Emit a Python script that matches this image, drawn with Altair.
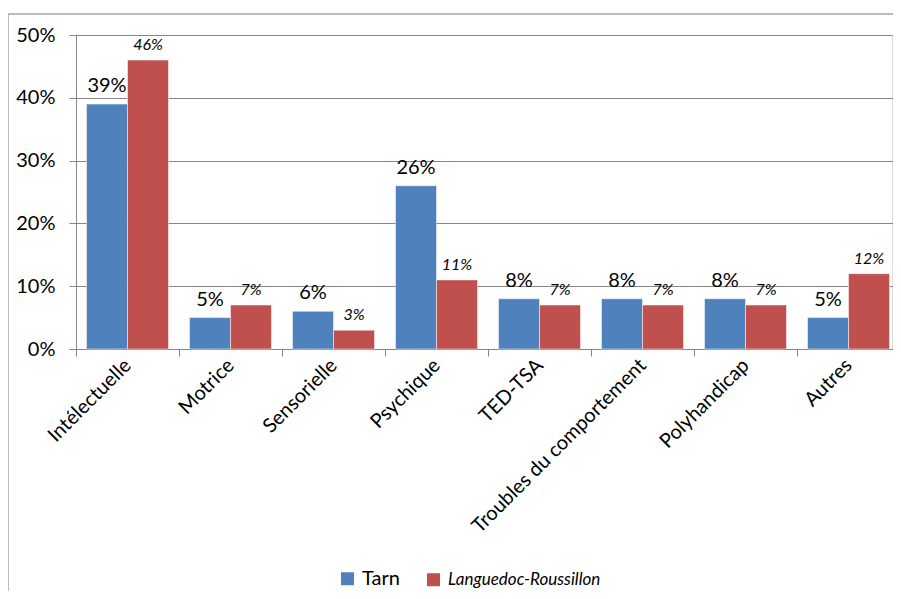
import altair as alt
import pandas as pd

categories = ["Intélectuelle", "Motrice", "Sensorielle", "Psychique", "TED-TSA",
              "Troubles du comportement", "Polyhandicap", "Autres"]
series = ["Tarn", "Languedoc-Roussillon"]
tarn = [0.39, 0.05, 0.06, 0.26, 0.08, 0.08, 0.08, 0.05]
lr = [0.46, 0.07, 0.03, 0.11, 0.07, 0.07, 0.07, 0.12]
colors = ["#4F81BD", "#C0504D"]

rows = []
for c, t, l in zip(categories, tarn, lr):
    rows.append({"cat": c, "serie": series[0], "val": t})
    rows.append({"cat": c, "serie": series[1], "val": l})
df = pd.DataFrame(rows)

FONT = "Lato"
W, H = 816, 314
XR = 824  # band range extends past the visible right edge (chart is cut off there)

x = alt.X("cat:N", sort=categories, title=None,
          scale=alt.Scale(paddingInner=0, paddingOuter=0, range=[0, XR]),
          axis=alt.Axis(labelAngle=-45, labelAlign="right", labelBaseline="middle",
                        labelFontSize=20, labelFont=FONT, labelColor="black",
                        labelPadding=6, labelLimit=0,
                        tickBand="extent", tickSize=7, tickColor="#868686",
                        domainColor="#868686", grid=False))
xo = alt.XOffset("serie:N", sort=series, scale=alt.Scale(paddingInner=0, paddingOuter=0.256))
y = alt.Y("val:Q", title=None,
          scale=alt.Scale(domain=[0, 0.5]),
          axis=alt.Axis(format=".0%", values=[0, 0.1, 0.2, 0.3, 0.4, 0.5],
                        labelFontSize=20, labelFont=FONT, labelColor="black",
                        labelPadding=14, tickSize=7, tickColor="#868686",
                        domainColor="#868686", gridColor="#868686", gridWidth=1))

color = alt.Color("serie:N", sort=series,
                  scale=alt.Scale(domain=series, range=colors),
                  legend=alt.Legend(title=None, orient="none", direction="horizontal",
                                    legendX=263, legendY=535,
                                    symbolType="square", symbolSize=169,
                                    symbolStrokeWidth=0,
                                    labelFont=FONT,
                                    labelFontSize=alt.ExprRef("datum.label == 'Tarn' ? 20 : 17"),
                                    labelFontStyle=alt.ExprRef("datum.label == 'Tarn' ? 'normal' : 'italic'"),
                                    labelColor="black", columnPadding=25, labelOffset=6))

bars = alt.Chart(df).mark_bar(stroke="white", strokeWidth=0.5).encode(
    x=x, xOffset=xo, y=y, color=color)

lbl_tarn = alt.Chart(df).transform_filter(alt.datum.serie == "Tarn").mark_text(
    font=FONT, fontSize=20, dy=-8, baseline="bottom", color="black").encode(
    x=alt.X("cat:N", sort=categories), xOffset=xo, y="val:Q",
    text=alt.Text("val:Q", format=".0%"))

lbl_lr = alt.Chart(df).transform_filter(alt.datum.serie == "Languedoc-Roussillon").mark_text(
    font=FONT, fontSize=16, fontStyle="italic", dy=-7, baseline="bottom", color="black").encode(
    x=alt.X("cat:N", sort=categories), xOffset=xo, y="val:Q",
    text=alt.Text("val:Q", format=".0%"))

frame = pd.DataFrame({"a": [0]})
border_top = alt.Chart(frame).mark_rule(stroke="#A6A6A6", strokeWidth=1.5).encode(
    x=alt.value(-68), x2=alt.value(W + 60), y=alt.value(-21))
border_left = alt.Chart(frame).mark_rule(stroke="#A6A6A6", strokeWidth=1.5).encode(
    x=alt.value(-68), y=alt.value(-21), y2=alt.value(H + 300))

chart = alt.layer(border_top, border_left, bars, lbl_tarn, lbl_lr).properties(
    width=W, height=H,
    autosize=alt.AutoSizeParams(type="none"),
    padding={"left": 68, "top": 27, "right": 1, "bottom": 242},
).configure_view(stroke=None).configure(font=FONT)

chart.save("out.html", embed_options={"renderer": "svg", "actions": False})
